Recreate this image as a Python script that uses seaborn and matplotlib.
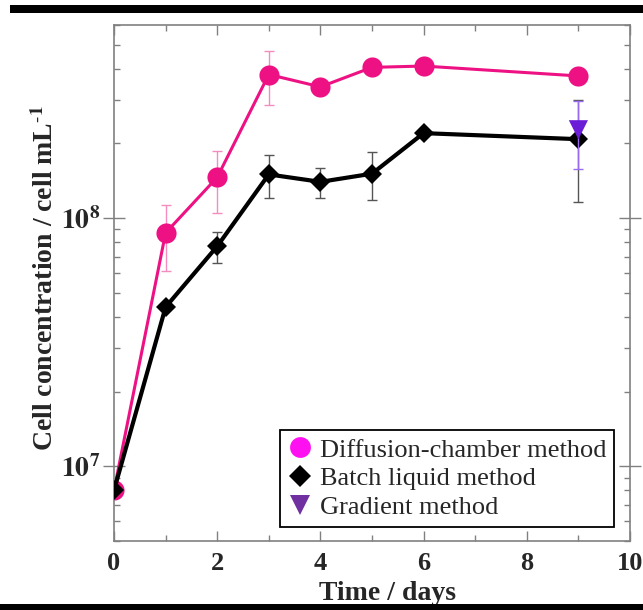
import numpy as np
import pandas as pd
import matplotlib
matplotlib.use("Agg")
import matplotlib.pyplot as plt
from matplotlib.lines import Line2D
from matplotlib.patches import Rectangle
from matplotlib.ticker import FixedLocator, FuncFormatter, LogLocator, NullFormatter
import seaborn as sns

# ---- data -------------------------------------------------------------
days = [0, 1, 2, 3, 4, 5, 6, 9]
diffusion_mean = [8.0e6, 8.72e7, 1.46e8, 3.79e8, 3.38e8, 4.05e8, 4.10e8, 3.74e8]
diffusion_sd = [0, 2.62e7, 4.1e7, 9.36e7, 0, 0, 0, 0]
batch_mean = [8.0e6, 4.38e7, 7.7e7, 1.50e8, 1.40e8, 1.51e8, 2.20e8, 2.08e8]
batch_sd = [0, 0, 1.1e7, 2.9e7, 1.9e7, 3.3e7, 0, 9.2e7]
gradient_day = [9]
gradient_mean = [2.27e8]
gradient_sd = [6.9e7]

series_names = ["Diffusion-chamber method", "Batch liquid method", "Gradient method"]
x_ticks = [0, 2, 4, 6, 8, 10]

# ---- style ------------------------------------------------------------
sns.set_theme(style="ticks")
plt.rcParams["font.family"] = ["Liberation Serif", "DejaVu Serif"]
plt.rcParams["mathtext.fontset"] = "stix"

pink = "#EE1183"
pink_err = "#F48CBE"
magenta = "#FF10F0"
black = "#000000"
grey_err = "#555555"
purple = "#6A1CD6"
purple_err = "#9B6BF0"
purple_leg = "#7030A0"
axis_grey = "#808080"

df = pd.concat([
    pd.DataFrame({"day": days, "conc": diffusion_mean, "method": series_names[0]}),
    pd.DataFrame({"day": days, "conc": batch_mean, "method": series_names[1]}),
])

fig = plt.figure(figsize=(6.43, 6.10), dpi=100)
ax = fig.add_axes([114 / 643, 69 / 610, 516 / 643, 516 / 610])

# error bars under the markers
ax.errorbar(days, diffusion_mean, yerr=diffusion_sd, fmt="none", ecolor=pink_err,
            elinewidth=1.0, capsize=3.5, capthick=1.0, zorder=1)
ax.errorbar(days, batch_mean, yerr=batch_sd, fmt="none", ecolor=grey_err,
            elinewidth=1.0, capsize=3.5, capthick=1.0, zorder=3)

sns.lineplot(data=df[df.method == series_names[0]], x="day", y="conc", ax=ax,
             color=pink, linewidth=2.2, marker="o", markersize=14.5,
             markeredgewidth=0, legend=False, zorder=2)
sns.lineplot(data=df[df.method == series_names[1]], x="day", y="conc", ax=ax,
             color=black, linewidth=3.0, marker="D", markersize=10.5,
             markeredgewidth=0, legend=False, zorder=4)

ax.errorbar(gradient_day, gradient_mean, yerr=gradient_sd, fmt="none", ecolor=purple_err,
            elinewidth=1.0, capsize=3.5, capthick=1.0, zorder=5)
sns.scatterplot(x=gradient_day, y=gradient_mean, ax=ax, marker="v", s=190,
                color=purple, edgecolor="none", legend=False, zorder=6)

# ---- axes -------------------------------------------------------------
ax.set_yscale("log")
ax.set_xlim(0, 10)
ax.set_ylim(5e6, 6e8)

ax.xaxis.set_major_locator(FixedLocator(x_ticks))
ax.xaxis.set_minor_locator(FixedLocator([1, 3, 5, 7, 9]))
ax.set_xticklabels([str(t) for t in x_ticks])
ax.yaxis.set_major_locator(FixedLocator([1e7, 1e8]))
ax.yaxis.set_minor_locator(LogLocator(base=10, subs=np.arange(2, 10)))
ax.yaxis.set_minor_formatter(NullFormatter())
ax.yaxis.set_major_formatter(FuncFormatter(
    lambda v, p: r"$\mathbf{10^{%d}}$" % int(round(np.log10(v)))))

for s in ax.spines.values():
    s.set_color(axis_grey)
    s.set_linewidth(1.2)

ax.tick_params(axis="x", which="major", direction="in", length=7, width=1.0,
               color=axis_grey, top=True, bottom=True, labelsize=19, pad=8)
ax.tick_params(axis="x", which="minor", direction="in", length=4, width=1.0,
               color=axis_grey, top=True, bottom=True)
ax.tick_params(axis="y", which="major", direction="inout", length=16, width=1.0,
               color=axis_grey, left=True, right=True, labelsize=20, pad=2)
ax.tick_params(axis="y", which="minor", direction="in", length=4, width=1.0,
               color=axis_grey, left=True, right=True)
for lab in ax.get_xticklabels():
    lab.set_fontweight("bold")

ax.set_xlabel("Time / days", fontsize=20, fontweight="bold")
ax.set_ylabel(r"Cell concentration / cell mL$^{\text{-}\mathbf{1}}$", fontsize=20,
              fontweight="bold")
ax.xaxis.set_label_coords(0.53, -0.077)
ax.yaxis.set_label_coords(-0.107, 0.51)

handles = [
    Line2D([], [], linestyle="none", marker="o", markersize=15, color=magenta,
           markeredgewidth=0),
    Line2D([], [], linestyle="none", marker="D", markersize=11, color=black,
           markeredgewidth=0),
    Line2D([], [], linestyle="none", marker="v", markersize=14, color=purple_leg,
           markeredgewidth=0),
]
leg = ax.legend(handles, series_names, loc="lower right",
                bbox_to_anchor=(0.969, 0.027), borderaxespad=0, fontsize=19,
                frameon=True, fancybox=False, edgecolor="black", framealpha=1,
                handlelength=0.9, handletextpad=0.3, labelspacing=0.2,
                borderpad=0.3)
leg.get_frame().set_linewidth(1.3)

# black framing bands along the top and bottom edges
fig.add_artist(Rectangle((10 / 643, 597 / 610), 633 / 643, 8 / 610,
                         transform=fig.transFigure, color="black", lw=0))
fig.add_artist(Rectangle((0, 0), 1, 6 / 610,
                         transform=fig.transFigure, color="black", lw=0))

fig.savefig("out.png", dpi=100)
